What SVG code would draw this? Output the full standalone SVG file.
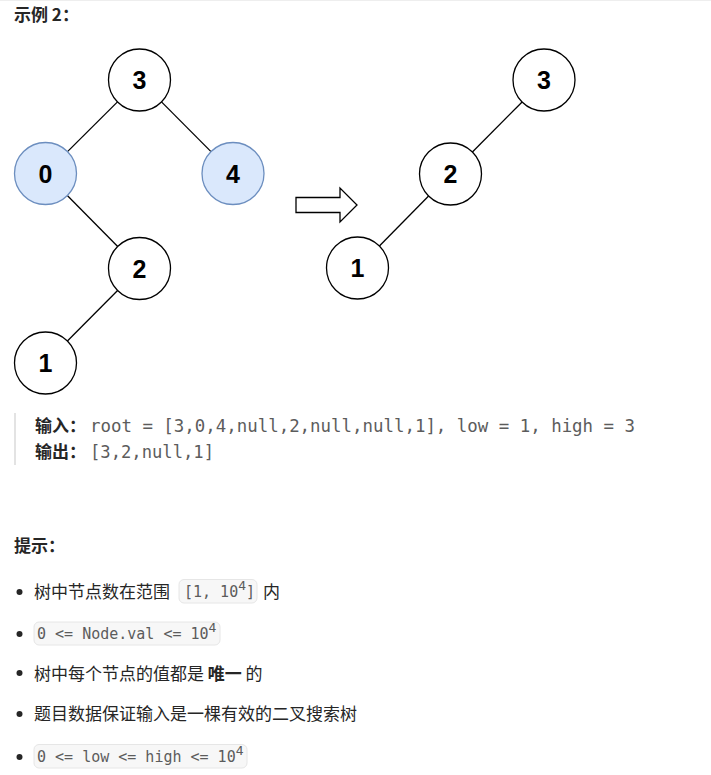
<svg xmlns="http://www.w3.org/2000/svg" width="711" height="775" viewBox="0 0 711 775">
<style>
.node circle{fill:#fff;stroke:#000;stroke-width:1.3}
.node.hl circle{fill:#dae8fc;stroke:#6c8ebf}
.node text{font-family:"Liberation Sans",Arial,sans-serif;font-weight:bold;font-size:25px;text-anchor:middle;fill:#000}
.edge{stroke:#000;stroke-width:1.3;fill:none}
.t{font-family:"Noto Sans CJK SC","Noto Sans",sans-serif;font-size:17px;fill:#262626}
.b{font-weight:bold}
.code{font-family:"DejaVu Sans Mono","Liberation Mono",monospace;fill:#5c5c5c}
.box{fill:#f7f7f7;stroke:#e6e6e6;stroke-width:1}
.dot{fill:#262626}
</style>
<rect x="0" y="0" width="711" height="775" fill="#fff"/>
<line x1="0" y1="0.5" x2="711" y2="0.5" stroke="#eeeeee"/>
<text class="t b" x="14" y="21" font-size="16.5">示例 2：</text>

<g id="connectors">
<line class="edge" x1="117.5" y1="101.9" x2="67.5" y2="151.6"/>
<line class="edge" x1="161.5" y1="101.9" x2="211" y2="151.6"/>
<line class="edge" x1="67.3" y1="195.5" x2="117.7" y2="246.5"/>
<line class="edge" x1="117.6" y1="290.5" x2="67.4" y2="341"/>
<line class="edge" x1="522.1" y1="102" x2="472.4" y2="152"/>
<line class="edge" x1="428.6" y1="196" x2="379.4" y2="246"/>
<path class="edge" d="M296,197.5 H340 V188 L357,205 L340,222 V212.5 H296 Z" fill="#fff" stroke-width="1.2"/>
</g>

<g id="L3" class="node"><circle cx="139.5" cy="80" r="31"/><text x="139.5" y="89">3</text></g>
<g id="L0" class="node hl"><circle cx="45.5" cy="173.5" r="31"/><text x="45.5" y="182.5">0</text></g>
<g id="L4" class="node hl"><circle cx="233" cy="173.5" r="31"/><text x="233" y="182.5">4</text></g>
<g id="L2" class="node"><circle cx="139.5" cy="268.5" r="31"/><text x="139.5" y="277.5">2</text></g>
<g id="L1" class="node"><circle cx="45.5" cy="363" r="31"/><text x="45.5" y="372">1</text></g>

<g id="R3" class="node"><circle cx="544" cy="80" r="31"/><text x="544" y="89">3</text></g>
<g id="R2" class="node"><circle cx="450.5" cy="174" r="31"/><text x="450.5" y="183">2</text></g>
<g id="R1" class="node"><circle cx="357.5" cy="268" r="31"/><text x="357.5" y="277">1</text></g>

<rect x="14" y="413" width="2" height="52" fill="#e3e3e3"/>
<text class="t b" x="35" y="432" font-size="16.5">输入：</text>
<text class="code" x="90" y="432" font-size="17" textLength="545" lengthAdjust="spacingAndGlyphs">root = [3,0,4,null,2,null,null,1], low = 1, high = 3</text>
<text class="t b" x="35" y="458" font-size="16.5">输出：</text>
<text class="code" x="90" y="458" font-size="17" textLength="124" lengthAdjust="spacingAndGlyphs">[3,2,null,1]</text>

<text class="t b" x="14" y="552" font-size="16.5">提示：</text>

<circle class="dot" cx="19.5" cy="592" r="3"/>
<text class="t" x="34" y="598">树中节点数在范围</text>
<rect class="box" x="179" y="579.5" width="78" height="23.5" rx="5"/>
<text class="code" x="184" y="597" font-size="15">[1, 10<tspan font-size="13" dy="-7">4</tspan><tspan dy="7">]</tspan></text>
<text class="t" x="263" y="598">内</text>

<circle class="dot" cx="19.5" cy="634" r="3"/>
<rect class="box" x="34" y="622" width="186" height="23" rx="5"/>
<text class="code" x="37" y="639" font-size="15">0 &lt;= Node.val &lt;= 10<tspan font-size="13" dy="-7">4</tspan></text>

<circle class="dot" cx="19.5" cy="673" r="3"/>
<text class="t" x="34" y="680">树中每个节点的值都是 <tspan class="b">唯一</tspan> 的</text>

<circle class="dot" cx="19.5" cy="714" r="3"/>
<text class="t" x="34" y="720">题目数据保证输入是一棵有效的二叉搜索树</text>

<circle class="dot" cx="19.5" cy="757" r="3"/>
<rect class="box" x="34" y="744.5" width="213" height="23.5" rx="5"/>
<text class="code" x="37" y="762" font-size="15">0 &lt;= low &lt;= high &lt;= 10<tspan font-size="13" dy="-7">4</tspan></text>
</svg>
